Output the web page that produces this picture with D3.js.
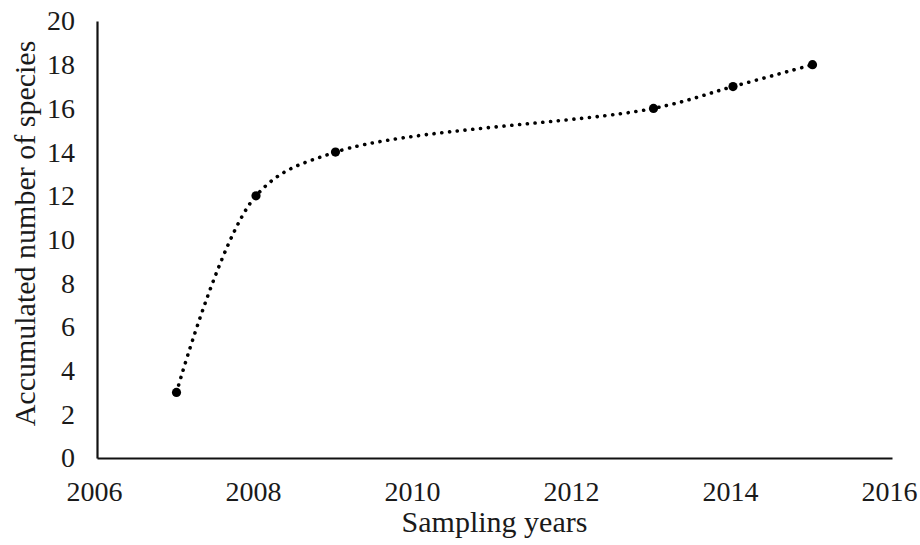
<!DOCTYPE html>
<html><head><meta charset="utf-8">
<script src="https://cdn.jsdelivr.net/npm/d3@7"></script>
<style>body{margin:0;background:#fff;} svg{display:block;}</style>
</head><body>
<svg id="c" width="920" height="545"></svg>
<script>
const years = [2007, 2008, 2009, 2013, 2014, 2015];
const species = [3, 12, 14, 16, 17, 18];
const xTicks = [2006, 2008, 2010, 2012, 2014, 2016];
const yTicks = [0, 2, 4, 6, 8, 10, 12, 14, 16, 18, 20];
const xTitle = "Sampling years";
const yTitle = "Accumulated number of species";

const FONT = "'Liberation Serif', 'Times New Roman', Times, serif";
const svg = d3.select("#c");
const m = {l: 97, r: 28, t: 21, b: 87};
const W = 920, H = 545;
const x = d3.scaleLinear().domain([2006, 2016]).range([m.l, W - m.r]);
const y = d3.scaleLinear().domain([0, 20]).range([H - m.b, m.t]);

const xa = svg.append("g").attr("transform", `translate(0,${y(0)})`)
  .call(d3.axisBottom(x).tickValues(xTicks).tickSize(0).tickPadding(23).tickFormat(d3.format("d")));
const ya = svg.append("g").attr("transform", `translate(${x(2006)},0)`)
  .call(d3.axisLeft(y).tickValues(yTicks).tickSize(0).tickPadding(22));
[xa, ya].forEach(a => {
  a.attr("font-family", FONT).attr("font-size", 28);
  a.select(".domain").attr("stroke", "#111").attr("stroke-width", 2.2);
  a.selectAll("text").attr("fill", "#1a1a1a");
});
xa.selectAll("text").attr("dy", "0.71em").attr("dx", -3);

const pts = years.map((d, i) => [x(d), y(species[i])]);
svg.append("path").attr("d", d3.line().curve(d3.curveCatmullRom.alpha(0.5))(pts))
  .attr("fill", "none").attr("stroke", "#000").attr("stroke-width", 3.6)
  .attr("stroke-linecap", "round").attr("stroke-dasharray", "0.1 7.7");

svg.selectAll("circle.pt").data(years).enter().append("circle")
  .attr("cx", (d) => x(d)).attr("cy", (d, i) => y(species[i])).attr("r", 4.6).attr("fill", "#000");

svg.append("text").attr("x", (x(2006) + x(2016)) / 2).attr("y", 532)
  .attr("text-anchor", "middle").attr("font-size", 30).attr("font-family", FONT)
  .attr("fill", "#1a1a1a").text(xTitle);
svg.append("text").attr("transform", `translate(35,233.5) rotate(-90)`)
  .attr("text-anchor", "middle").attr("font-size", 30).attr("font-family", FONT)
  .attr("fill", "#1a1a1a").text(yTitle);
</script>
</body></html>
